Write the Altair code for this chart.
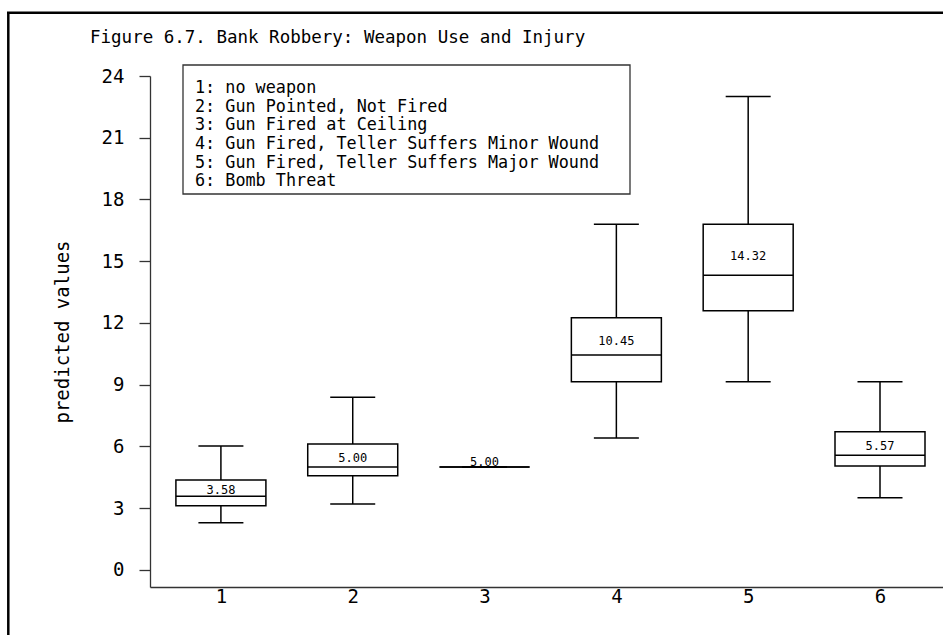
import altair as alt
import pandas as pd

# Weapon-use categories and the five-number summary of predicted values
categories = [1, 2, 3, 4, 5, 6]
lower_whisker = [2.30, 3.21, 5.00, 6.41, 9.15, 3.51]
q1 = [3.12, 4.58, 5.00, 9.15, 12.60, 5.05]
median = [3.58, 5.00, 5.00, 10.45, 14.32, 5.57]
q3 = [4.37, 6.12, 5.00, 12.26, 16.80, 6.72]
upper_whisker = [6.03, 8.39, 5.00, 16.80, 23.00, 9.15]

legend_lines = [
    "1: no weapon",
    "2: Gun Pointed, Not Fired",
    "3: Gun Fired at Ceiling",
    "4: Gun Fired, Teller Suffers Minor Wound",
    "5: Gun Fired, Teller Suffers Major Wound",
    "6: Bomb Threat",
]

title_text = "Figure 6.7. Bank Robbery: Weapon Use and Injury"
y_ticks = [0, 3, 6, 9, 12, 15, 18, 21, 24]

FONT = "DejaVu Sans Mono"
W, H = 793, 511

df = pd.DataFrame({
    "cat": categories,
    "lower": lower_whisker,
    "q1": q1,
    "median": median,
    "q3": q3,
    "upper": upper_whisker,
})
single = pd.DataFrame({"k": [0]})

x_scale = alt.Scale(domain=[0.5, 6.44], nice=False, zero=False)
y_scale = alt.Scale(domain=[-0.826, 24], nice=False, zero=False)
x_axis = alt.Axis(values=categories, format="d", tickSize=0, labelPadding=0, title=None,
                  labelFontSize=19, labelFont=FONT, labelColor="black",
                  domainColor="#333333", domainWidth=1.3, grid=False, labelFlush=False)
y_axis = alt.Axis(values=y_ticks, format="d", tickSize=11, tickColor="#333333", tickWidth=1.3,
                  labelPadding=15, labelFontSize=19, labelFont=FONT, labelColor="black",
                  domainColor="#333333", domainWidth=1.3, grid=False,
                  title="predicted values", titleFont=FONT, titleFontSize=19,
                  titleFontWeight="normal", titleColor="black",
                  titleAngle=-90, titleX=-88, titleY=H / 2,
                  titleAlign="center", titleBaseline="middle", labelFlush=False)

X = alt.X("cat:Q", scale=x_scale, axis=x_axis)


def Y(field):
    return alt.Y(field, scale=y_scale, axis=y_axis)


base = alt.Chart(df)

whisker_hi = base.mark_rule(color="black", strokeWidth=1.5).encode(
    x=X, y=Y("q3:Q"), y2="upper:Q")
whisker_lo = base.mark_rule(color="black", strokeWidth=1.5).encode(
    x=X, y=Y("lower:Q"), y2="q1:Q")
cap_hi = base.mark_tick(orient="horizontal", size=45, thickness=1.5, color="black",
                        opacity=1).encode(x=X, y=Y("upper:Q"))
cap_lo = base.mark_tick(orient="horizontal", size=45, thickness=1.5, color="black",
                        opacity=1).encode(x=X, y=Y("lower:Q"))
box = base.mark_bar(size=90, fill="white", stroke="black", strokeWidth=1.5).encode(
    x=X, y=Y("q1:Q"), y2="q3:Q")
med = base.mark_tick(orient="horizontal", size=90, thickness=1.5, color="black",
                     opacity=1).encode(x=X, y=Y("median:Q"))
med_label = base.transform_calculate(
    label_y="datum.median + max(0.27, 0.38 * (datum.q3 - datum.median))"
).mark_text(font=FONT, fontSize=12, color="black", baseline="middle", align="center").encode(
    x=X, y=Y("label_y:Q"), text=alt.Text("median:Q", format=".2f"))

# Key of category codes, boxed in the upper-left of the plot
key_box = alt.Chart(single).mark_rect(fill="white", stroke="#333333", strokeWidth=1.3).encode(
    x=alt.value(33), x2=alt.value(480), y=alt.value(-11), y2=alt.value(118))
key_text = alt.Chart(single).mark_text(
    font=FONT, fontSize=16.8, color="black", align="left", baseline="middle",
    lineHeight=18.6).encode(
    x=alt.value(45), y=alt.value(12.3), text=alt.value(legend_lines))

# Figure heading
heading = alt.Chart(single).mark_text(
    font=FONT, fontSize=17.5, color="black", align="left", baseline="middle").encode(
    x=alt.value(-60), y=alt.value(-38), text=alt.value(title_text))

# Outer page frame (left and top edges)
frame_left = alt.Chart(single).mark_rule(color="black", strokeWidth=2.5).encode(
    x=alt.value(-141.7), y=alt.value(-63.5), y2=alt.value(620))
frame_top = alt.Chart(single).mark_rule(color="black", strokeWidth=2.5).encode(
    x=alt.value(-143), x2=alt.value(W + 10), y=alt.value(-63.3))

chart = alt.layer(
    whisker_hi, whisker_lo, box, cap_hi, cap_lo, med, med_label,
    key_box, key_text, heading, frame_left, frame_top,
).properties(
    width=W, height=H,
    background="white",
    padding={"left": 150, "top": 76, "right": 0, "bottom": 48},
    autosize=alt.AutoSizeParams(type="none"),
).configure_view(strokeWidth=0, stroke="transparent").configure_axis(grid=False)

chart.save("out.html", embed_options={"renderer": "svg", "actions": False})
